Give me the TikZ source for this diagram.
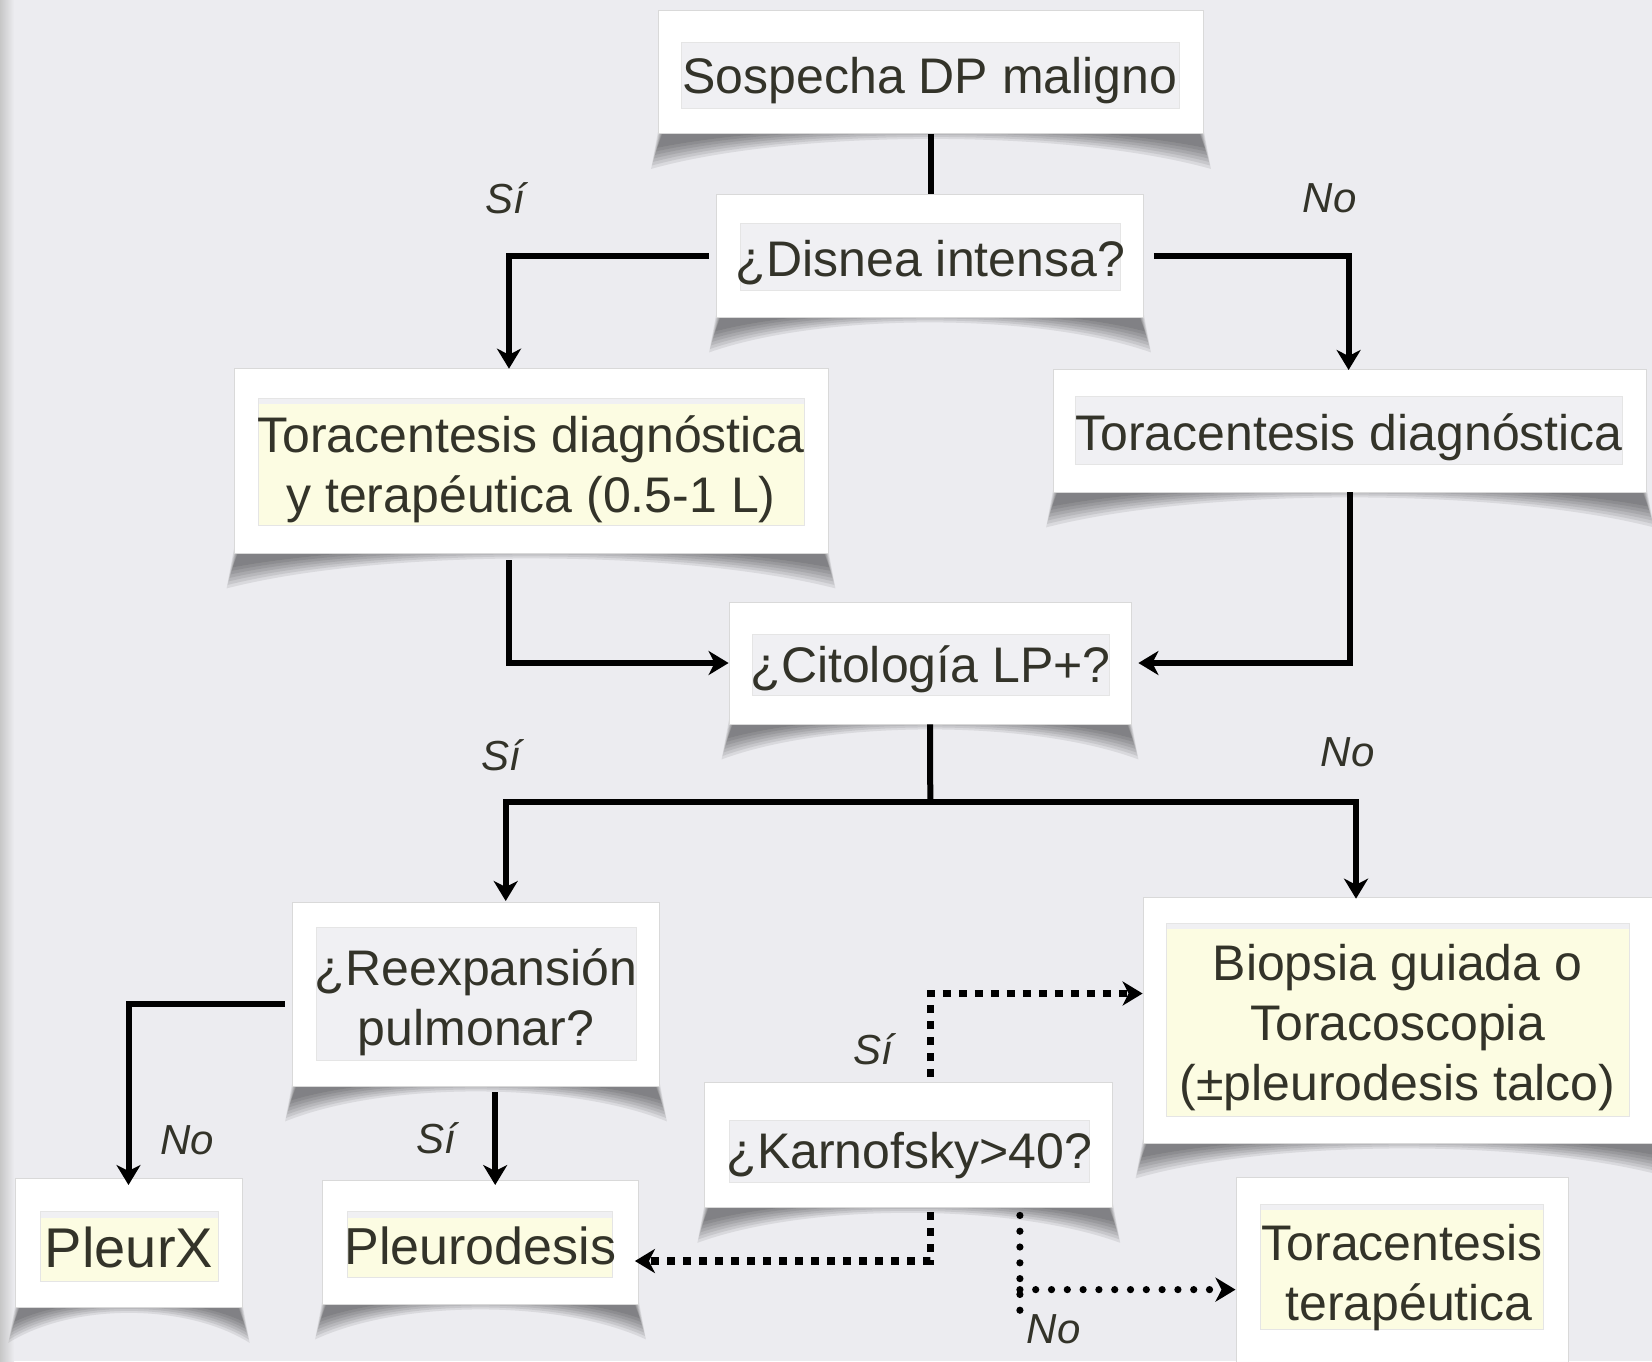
\documentclass[tikz,border=0pt]{standalone}
\usepackage{fontspec}
\setmainfont{Liberation Sans}
\usetikzlibrary{arrows.meta,calc,backgrounds}
\definecolor{bgc}{RGB}{236,236,240}
\definecolor{txt}{RGB}{51,51,41}
\definecolor{inng}{RGB}{240,240,243}
\definecolor{inny}{RGB}{252,252,226}
\tikzset{
 obox/.style={fill=white, draw=black!15, line width=0.4pt, inner sep=0pt},
 ibox/.style={fill=inng, draw=black!10, line width=0.4pt, inner sep=0pt},
 ybox/.style={ibox, fill=inny, path picture={\fill[inng] (path picture bounding box.north west) rectangle ([yshift=-3pt]path picture bounding box.north east);}},
 tx/.style={text=txt, align=center, inner sep=0pt, font=\fontsize{25}{30}\selectfont},
 lbl/.style={text=txt, font=\fontsize{21}{25}\selectfont\itshape, inner sep=0pt},
 conn/.style={line width=3pt, black, line join=miter},
 tip/.style={-{Stealth[length=10pt,width=12pt,inset=3pt]}},
 arr/.style={conn, tip},
 sq/.style={line width=3.8pt, black, dash pattern=on 4pt off 4pt},
 sqarr/.style={sq, tip},
 dt/.style={line width=3.6pt, black, line cap=round, dash pattern=on 0pt off 7.9pt},
 dtarr/.style={dt, tip},
}
\newcommand\cshadow[1]{%
 \foreach \k in {0,...,6} {
  \fill[black, opacity=0.08]
  ($(#1.south west)+(7-\k,-8)$) -- ($(#1.south west)+(-1-\k,14+3.5*\k)$)
  .. controls ($(#1.south west)!0.25!(#1.south east)+(0,-14+1.5*\k)$) and ($(#1.south west)!0.75!(#1.south east)+(0,-14+1.5*\k)$) .. ($(#1.south east)+(1+\k,14+3.5*\k)$) -- ($(#1.south east)+(-7+\k,-8)$) -- cycle;}}
\begin{document}
\begin{tikzpicture}[x=0.5pt,y=-0.5pt]
\useasboundingbox (0,0) rectangle (1652,1361);
\clip (0,0) rectangle (1652,1361);
% boxes
\node[obox, minimum width=272.5pt, minimum height=61.5pt] (sosp) at (931,72) {};
\node[ibox, minimum width=249pt, minimum height=33pt] (sospR) at (930,75) {};
\node[tx, yshift=-2.6pt] (sospT) at (930,75) {Sospecha DP maligno};
\node[obox, minimum width=213.5pt, minimum height=61.5pt] (disn) at (930,255.5) {};
\node[ibox, minimum width=190pt, minimum height=33.5pt] (disnR) at (930.5,256.5) {};
\node[tx, yshift=-3.2pt] (disnT) at (930.5,256.5) {¿Disnea intensa?};
\node[obox, minimum width=297pt, minimum height=92.5pt] (tdt) at (531,460.5) {};
\node[ybox, minimum width=273pt, minimum height=63.5pt] (tdtR) at (531,461.5) {};
\node[tx, yshift=-3.7pt] (tdtT) at (531,461.5) {Toracentesis diagnóstica\\y terapéutica (0.5-1 L)};
\node[obox, minimum width=296.5pt, minimum height=61.5pt] (td) at (1350,430.5) {};
\node[ibox, minimum width=273.5pt, minimum height=34pt] (tdR) at (1349,430) {};
\node[tx, yshift=-3.7pt] (tdT) at (1349,430) {Toracentesis diagnóstica};
\node[obox, minimum width=201pt, minimum height=61pt] (cit) at (930,663) {};
\node[ibox, minimum width=178.5pt, minimum height=30.5pt] (citR) at (930.5,664.5) {};
\node[tx, yshift=-2.6pt] (citT) at (930.5,664.5) {¿Citología LP+?};
\node[obox, minimum width=183.5pt, minimum height=92pt] (reex) at (476,994) {};
\node[ibox, minimum width=160pt, minimum height=66.5pt] (reexR) at (476,993.5) {};
\node[tx, yshift=-4.2pt] (reexT) at (476,993.5) {¿Reexpansión\\pulmonar?};
\node[obox, minimum width=261pt, minimum height=123pt] (biop) at (1404,1020) {};
\node[ybox, minimum width=231.5pt, minimum height=96.5pt] (biopR) at (1397.5,1019.5) {};
\node[tx, yshift=-4.2pt] (biopT) at (1397.5,1019.5) {Biopsia guiada o\\Toracoscopia\\(±pleurodesis talco)};
\node[obox, minimum width=113.25pt, minimum height=64.75pt] (px) at (129,1242.7) {};
\node[ybox, minimum width=89pt, minimum height=34.7pt] (pxR) at (129,1246.3) {};
\node[tx, yshift=-0.6pt, font=\fontsize{28}{33}\selectfont] (pxT) at (129,1246.3) {PleurX};
\node[obox, minimum width=158pt, minimum height=62pt] (pleu) at (480.5,1242) {};
\node[ybox, minimum width=132.5pt, minimum height=32.7pt] (pleuR) at (480.3,1244.3) {};
\node[tx, yshift=-1pt, font=\fontsize{26}{31}\selectfont] (pleuT) at (480.3,1244.3) {Pleurodesis};
\node[obox, minimum width=204pt, minimum height=62.7pt] (karn) at (908.8,1144.7) {};
\node[ibox, minimum width=180pt, minimum height=31pt] (karnR) at (909.2,1151) {};
\node[tx, yshift=-2.1pt] (karnT) at (909.2,1151) {¿Karnofsky>40?};
\node[obox, minimum width=166pt, minimum height=96.5pt] (tter) at (1401.9,1273.5) {};
\node[ybox, minimum width=141.25pt, minimum height=62.8pt] (tterR) at (1402,1266.8) {};
\node[tx, yshift=-5.5pt] (tterT) at (1402,1266.8) {Toracentesis\\\hspace*{0.28em}terapéutica};
% coordinates
\coordinate (dL) at (509,368.7);
\coordinate (dR) at (1348.6,370);
\coordinate (tdtB) at (509,553);
\coordinate (split) at (930.3,801.8);
\coordinate (reexIn) at (505.7,901);
\coordinate (biopIn) at (1356,898.7);
\coordinate (reexL) at (292.9,1004);
\coordinate (pxIn) at (128.5,1185);
\coordinate (reexB) at (495.2,1086.3);
\coordinate (pleuIn) at (495.2,1185);
\coordinate (karnTop) at (930.3,1082);
\coordinate (kS) at (930.3,993.5);
\coordinate (karnB) at (930.3,1207.4);
\coordinate (kL) at (930.3,1261);
\coordinate (karnB2) at (1019.9,1207.4);
\coordinate (kNo) at (1019.9,1317);
\coordinate (kNm) at (1019.9,1289.6);
% connectors
\draw[conn] (sosp.south) -- (sosp.south |- disn.north);
\draw[arr, shorten <=3.5pt] (disn.west) -| (dL);
\draw[arr, shorten <=5pt] (disn.east) -| (dR);
\draw[arr, shorten <=3.5pt] (tdtB) |- (cit.west);
\draw[arr, shorten >=3.5pt] (td.south) |- (cit.east);
\draw[conn] (cit.south) -- (split);
\draw[arr] (split) -| (reexIn);
\draw[arr] (split) -| (biopIn);
\draw[arr, shorten <=4pt] (reexL) -| (pxIn);
\draw[arr, shorten <=3pt] (reexB) -- (pleuIn);
\draw[sqarr, shorten <=2.5pt] (karnTop) |- (biop.west |- kS);
\draw[sqarr, shorten <=2.5pt, shorten >=-2pt] (karnB) |- (pleu.east |- kL);
\draw[dt, shorten <=4pt] (karnB2) -- (kNo);
\draw[dtarr] (kNm) -- (tter.west |- kNm);
% labels
\node[lbl] (l1) at (505.7,198) {Sí};
\node[lbl] (l2) at (1329.6,198) {No};
\node[lbl] (l3) at (501.5,755.4) {Sí};
\node[lbl] (l4) at (1347.5,752.3) {No};
\node[lbl] (l5) at (187.5,1140) {No};
\node[lbl] (l6) at (436,1137.9) {Sí};
\node[lbl] (l7) at (873.4,1049.4) {Sí};
\node[lbl] (l8) at (1053.6,1329.6) {No};
% background and shadows
\begin{scope}[on background layer]
\fill[bgc] (0,0) rectangle (1652,1361);
\shade[left color=black!22, right color=bgc] (0,0) rectangle (14,1361);
\cshadow{sosp}
\cshadow{disn}
\cshadow{tdt}
\cshadow{td}
\cshadow{cit}
\cshadow{reex}
\cshadow{biop}
\cshadow{px}
\cshadow{pleu}
\cshadow{karn}
\end{scope}
\end{tikzpicture}
\end{document}
